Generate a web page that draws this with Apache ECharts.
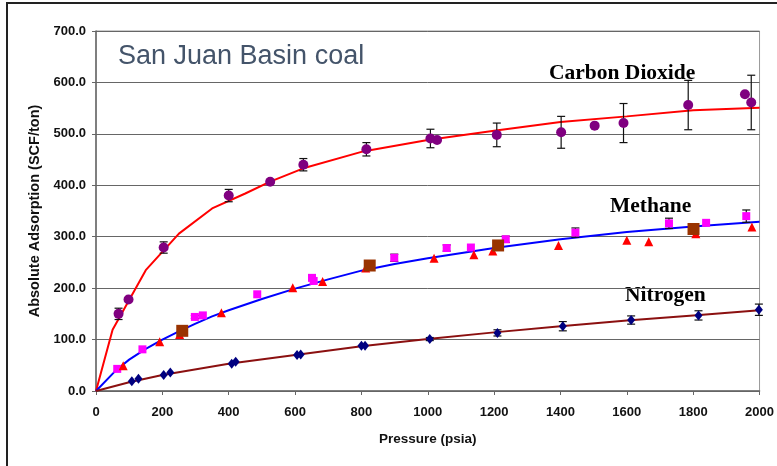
<!DOCTYPE html>
<html>
<head>
<meta charset="utf-8">
<style>
  html, body { margin: 0; padding: 0; background: #fff; }
  #chart { width: 777px; height: 466px; }
</style>
<script src="https://cdn.jsdelivr.net/npm/echarts@6/dist/echarts.min.js"></script>
</head>
<body>
<div id="chart"></div>
<script>
// pressure (psia), adsorption (SCF/ton), error half-height
var co2Points = [[68,150,11],[98,178,0],[204,279,11],[400,380,12],[525,407,0],[625,440,12],[815,470,13],
  [1008,491,18],[1028,488,0],[1208,498,23],[1402,503,31],[1503,516,0],[1590,521,38],[1785,556,48],
  [1956,577,0],[1975,561,53]];
var co2Fit = [[0,0],[50,119],[150,235],[250,306],[350,355],[450,384],[525,407],[625,433],[800,465],
  [1000,488],[1200,506],[1400,523],[1600,534],[1800,546],[2000,551]];

var ch4Squares = [[64,43,0],[140,81,0],[298,144,3],[322,147,0],[486,188,0],[651,220,0],[656,214,0],
  [899,259,7],[1057,278,6],[1130,279,0],[1235,295,6],[1445,308,9],[1727,326,10],[1839,327,0],[1960,340,12]];
var ch4Triangles = [[82,49],[192,96],[252,110],[378,152],[593,201],[683,213],[813,239],[1019,258],
  [1139,265],[1196,272],[1394,283],[1600,293],[1666,290],[1808,306],[1977,319]];
var ch4Big = [[260,117],[825,244],[1212,283],[1801,315]];
var ch4Fit = [[0,0],[60,40],[100,61],[150,82],[200,100],[250,116],[300,131],[350,145],[400,157],
  [500,179],[600,199],[700,217],[800,234],[900,247],[1000,258],[1200,278],[1400,295],[1600,309],[1800,320],[2000,329]];

var n2Points = [[108,19,0],[128,24,0],[204,31,0],[224,36,0],[409,53,0],[421,57,0],[606,70,0],[617,71,0],
  [800,88,0],[811,88,0],[1006,101,3],[1210,113,6],[1407,126,9],[1613,138,8],[1816,147,9],[1998,158,11]];
var n2Fit = [[0,0],[100,17],[200,31],[400,53],[600,70],[800,87],[1000,101],[1200,114],[1400,126],
  [1600,137],[1800,147],[2000,157]];

var xTicks = [0, 2000, 200];
var yTicks = [0, 700, 100];

var myChart = echarts.init(document.getElementById('chart'));

function errorBars(params, api) {
  var e = api.value(2);
  if (!e) return null;
  var x = api.value(0), y = api.value(1);
  var top = api.coord([x, y + e]);
  var bot = api.coord([x, y - e]);
  var st = { stroke: '#111', lineWidth: 1.2 };
  return {
    type: 'group',
    children: [
      { type: 'line', shape: { x1: top[0], y1: top[1], x2: bot[0], y2: bot[1] }, style: st },
      { type: 'line', shape: { x1: top[0] - 4, y1: top[1], x2: top[0] + 4, y2: top[1] }, style: st },
      { type: 'line', shape: { x1: bot[0] - 4, y1: bot[1], x2: bot[0] + 4, y2: bot[1] }, style: st }
    ]
  };
}

var bold = 'Liberation Sans, Arial, sans-serif';
var serif = 'Liberation Serif, Times New Roman, serif';

var option = {
  animation: false,
  grid: { left: 96, right: 13, top: 31, bottom: 75, show: true, borderColor: '#999', borderWidth: 1 },
  xAxis: {
    type: 'value', min: xTicks[0], max: xTicks[1], interval: xTicks[2],
    name: 'Pressure (psia)', nameLocation: 'middle', nameGap: 41,
    nameTextStyle: { fontFamily: bold, fontWeight: 'bold', fontSize: 13.5, color: '#111' },
    axisLine: { lineStyle: { color: '#666', width: 1.5 } },
    axisTick: { show: true, length: 4, lineStyle: { color: '#666' } },
    axisLabel: { margin: 15, fontFamily: bold, fontWeight: 'bold', fontSize: 13, color: '#111',
      formatter: function (v) { return String(v); } },
    splitLine: { show: false }
  },
  yAxis: {
    type: 'value', min: yTicks[0], max: yTicks[1], interval: yTicks[2],
    name: 'Absolute Adsorption (SCF/ton)', nameLocation: 'middle', nameGap: 45,
    nameTextStyle: { fontFamily: bold, fontWeight: 'bold', fontSize: 14.5, color: '#111' },
    axisLine: { show: true, lineStyle: { color: '#666', width: 1.5 } },
    axisTick: { show: true, length: 4, lineStyle: { color: '#666' } },
    axisLabel: { margin: 10, fontFamily: bold, fontWeight: 'bold', fontSize: 13, color: '#111',
      formatter: function (v) { return v.toFixed(1); } },
    splitLine: { lineStyle: { color: '#666', width: 1 } }
  },
  graphic: [
    { type: 'rect', shape: { x: 7, y: 3, width: 820, height: 520 },
      style: { fill: 'none', stroke: '#222', lineWidth: 2 }, silent: true },
    { type: 'text', left: 118, top: 43,
      style: { text: 'San Juan Basin coal', fontFamily: bold, fontSize: 27, fill: '#44546A' } },
    { type: 'text', left: 549, top: 62,
      style: { text: 'Carbon Dioxide', fontFamily: serif, fontWeight: 'bold', fontSize: 21.5, fill: '#000' } },
    { type: 'text', left: 610, top: 195,
      style: { text: 'Methane', fontFamily: serif, fontWeight: 'bold', fontSize: 21.5, fill: '#000' } },
    { type: 'text', left: 625, top: 284,
      style: { text: 'Nitrogen', fontFamily: serif, fontWeight: 'bold', fontSize: 21.5, fill: '#000' } }
  ],
  series: [
    { name: 'CO2 fit', type: 'line', data: co2Fit, symbol: 'none', smooth: false,
      lineStyle: { color: '#FF0000', width: 2 }, z: 2 },
    { name: 'CH4 fit', type: 'line', data: ch4Fit, symbol: 'none', smooth: false,
      lineStyle: { color: '#0000FF', width: 2 }, z: 2 },
    { name: 'N2 fit', type: 'line', data: n2Fit, symbol: 'none', smooth: false,
      lineStyle: { color: '#8B1010', width: 2 }, z: 2 },

    { type: 'custom', data: co2Points, renderItem: errorBars, z: 3 },
    { type: 'custom', data: ch4Squares, renderItem: errorBars, z: 3 },
    { type: 'custom', data: n2Points, renderItem: errorBars, z: 3 },

    { name: 'Carbon Dioxide', type: 'scatter', data: co2Points, symbol: 'circle', symbolSize: 10,
      itemStyle: { color: '#800080', opacity: 1 }, z: 4 },
    { name: 'Methane 1', type: 'scatter', data: ch4Squares, symbol: 'rect', symbolSize: 8,
      itemStyle: { color: '#FF00FF', opacity: 1 }, z: 4 },
    { name: 'Methane 2', type: 'scatter', data: ch4Triangles, symbol: 'triangle', symbolSize: 9,
      itemStyle: { color: '#FF0000', opacity: 1 }, z: 4 },
    { name: 'Methane 3', type: 'scatter', data: ch4Big, symbol: 'rect', symbolSize: 12,
      itemStyle: { color: '#993300', opacity: 1 }, z: 4 },
    { name: 'Nitrogen', type: 'scatter', data: n2Points, symbol: 'diamond', symbolSize: [8, 10],
      itemStyle: { color: '#000080', opacity: 1 }, z: 4 }
  ]
};

myChart.setOption(option);
window.addEventListener('resize', function () {
  myChart.resize();
});
</script>
</body>
</html>
